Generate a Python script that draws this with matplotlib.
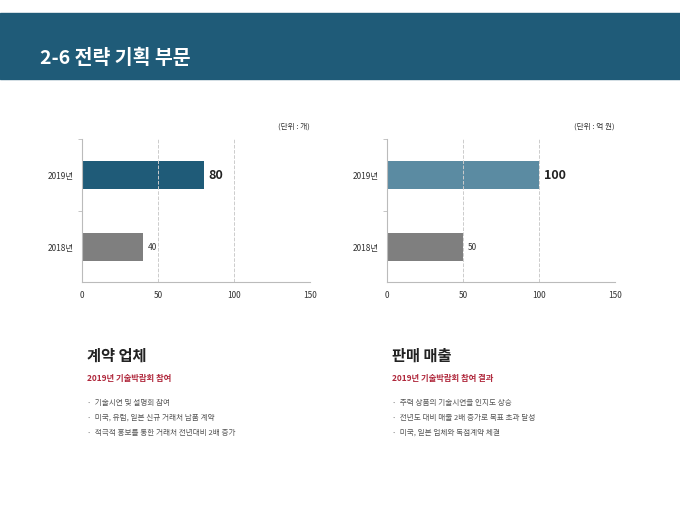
import matplotlib.pyplot as plt
from matplotlib.patches import Rectangle

plt.rcParams['font.family'] = ['Noto Sans CJK KR', 'DejaVu Sans']

years = ['2018년', '2019년']
contracts = [40, 80]
sales = [50, 100]
units = ['(단위 : 개)', '(단위 : 억 원)']
headings = ['계약 업체', '판매 매출']
subtitles = ['2019년 기술박람회 참여', '2019년 기술박람회 참여 결과']
bullets = [
    ['기술시연 및 설명회 참여', '미국, 유럽, 일본 신규 거래처 납품 계약', '적극적 홍보를 통한 거래처 전년대비 2배 증가'],
    ['주력 상품의 기술시연을 인지도 상승', '전년도 대비 매출 2배 증가로 목표 초과 달성', '미국, 일본 업체와 독점계약 체결'],
]

W, H = 680, 510
fig = plt.figure(figsize=(6.8, 5.1), dpi=100)
fig.patches.append(Rectangle((0, 1 - 80 / H), 1, 66 / H, transform=fig.transFigure,
                             color='#1f5b78', zorder=0))
fig.text(40 / W, 1 - 58 / H, '2-6 전략 기획 부문', color='white', fontsize=14,
         fontweight='bold', va='center')

top_colors = ['#1f5b78', '#5b8ba2']
for i, (vals, x0) in enumerate([(contracts, 82), (sales, 387)]):
    ax = fig.add_axes([x0 / W, 1 - 283 / H, 228 / W, 143 / H])
    ax.barh([0, 1], vals, height=0.39, color=['#7f7f7f', top_colors[i]])
    ax.set_xlim(0, 150)
    ax.set_ylim(-0.49, 1.5)
    ax.set_xticks([0, 50, 100, 150])
    ax.set_yticks([0, 1])
    ax.set_yticklabels(years)
    ax.set_yticks([0.5, 1.5], minor=True)
    ax.tick_params(axis='both', labelsize=6, colors='#333333', length=0, pad=6)
    ax.tick_params(axis='y', which='minor', length=3, color='#bbbbbb')
    ax.grid(axis='x', linestyle='--', color='#cccccc', linewidth=0.7)
    for s in ['top', 'right']:
        ax.spines[s].set_visible(False)
    for s in ['left', 'bottom']:
        ax.spines[s].set_color('#bbbbbb')
    ax.text(vals[1] + 3, 1, str(vals[1]), va='center', fontsize=9, fontweight='bold', color='#222222')
    ax.text(vals[0] + 3, 0, str(vals[0]), va='center', fontsize=6, color='#333333')
    ax.text(1.0, 1.08, units[i], transform=ax.transAxes, ha='right', fontsize=5.5, color='#333333')

    tx = [87, 392][i]
    fig.text(tx / W, 1 - 356 / H, headings[i], fontsize=11, fontweight='bold', color='#222222', va='center')
    fig.text(tx / W, 1 - 379 / H, subtitles[i], fontsize=6, fontweight='bold', color='#b0283c', va='center')
    for j, b in enumerate(bullets[i]):
        fig.text(tx / W, 1 - (403 + 15 * j) / H, '·  ' + b, fontsize=5.5, color='#555555', va='center')

fig.savefig('out.png', dpi=100)
